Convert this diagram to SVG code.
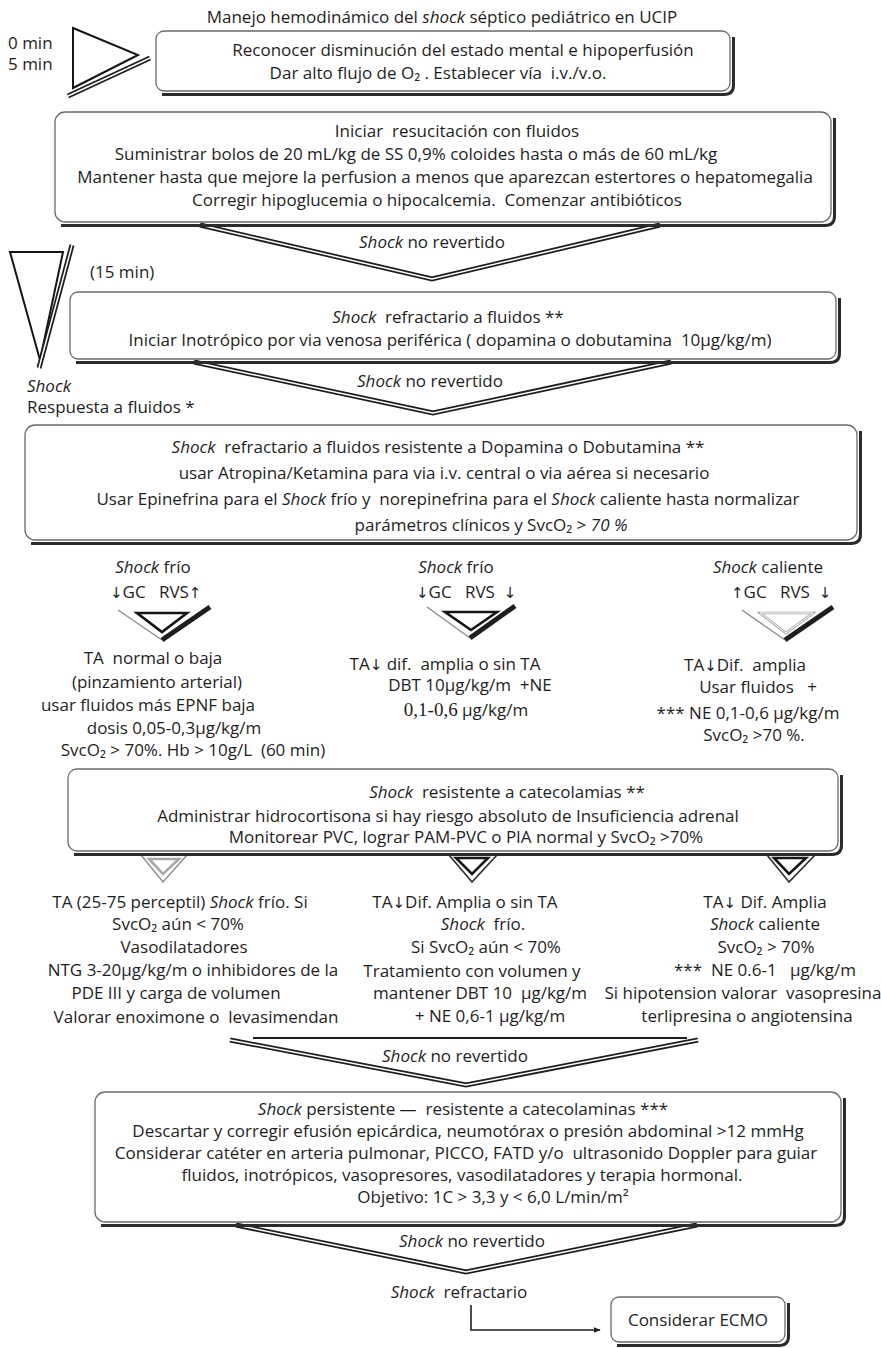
<svg xmlns="http://www.w3.org/2000/svg" width="881" height="1348" viewBox="0 0 881 1348">
<style>
  text { font-family: "Open Sans", "Liberation Sans", sans-serif; font-size: 17px; fill: #1e1e1e; white-space: pre; }
  .c { text-anchor: middle; }
  .i { font-style: italic; }
  .ar { font-family: "DejaVu Sans", sans-serif; font-size: 15px; }
  .ser { font-family: "Liberation Serif", serif; font-size: 19px; }
  .box { fill: #fff; stroke: #6a6a6a; stroke-width: 1.3; }
  .shadow { fill: none; stroke: #2b2b2b; stroke-width: 3; }
  .dbl { fill: none; stroke: #1e1e1e; stroke-width: 5; stroke-linejoin: miter; stroke-miterlimit: 20; }
  .dbl-in { fill: none; stroke: #fff; stroke-width: 1.5; stroke-linejoin: miter; stroke-miterlimit: 20; }
  .thin { fill: none; stroke: #8a8a8a; stroke-width: 1.3; }
  .tri { fill: #fff; stroke: #151515; stroke-width: 2.6; stroke-linejoin: miter; }
  .tri-w { fill: #fff; stroke: #a8a8a8; stroke-width: 2.6; }
  .tri-w-in { fill: none; stroke: #fff; stroke-width: 1; }
  .line { fill: none; stroke: #1e1e1e; stroke-width: 1.6; }
</style>
<defs>
  <marker id="arrow" viewBox="0 0 10 10" refX="9" refY="5" markerWidth="7" markerHeight="7" orient="auto" markerUnits="userSpaceOnUse">
    <path d="M0,1 L10,5 L0,9 z" fill="#1e1e1e"/>
  </marker>
</defs>

<!-- heading and time markers -->
<g id="title">
  <text class="c" x="442" y="23" font-size="15.5">Manejo hemodinámico del <tspan class="i">shock</tspan> séptico pediátrico en UCIP</text>
</g>
<g id="time-0-5">
  <text x="8" y="49" font-size="14">0 min</text>
  <text x="8" y="70" font-size="14">5 min</text>
  <polygon points="73,28 138,55 73,88" fill="#fff" stroke="#151515" stroke-width="2"/>
  <line class="dbl" x1="150" y1="58" x2="68" y2="96" stroke-width="4"/>
  <line class="dbl-in" x1="150" y1="58" x2="68" y2="96" stroke-width="1.2"/>
</g>
<g id="time-15">
  <polygon points="10,252 63,252 40,360" fill="#fff" stroke="#151515" stroke-width="2"/>
  <line class="dbl" x1="72" y1="245" x2="39" y2="368" stroke-width="4"/>
  <line class="dbl-in" x1="72" y1="245" x2="39" y2="368" stroke-width="1.2"/>
  <text x="90" y="278">(15 min)</text>
</g>
<g id="respuesta">
  <text x="27" y="392" class="i" font-size="15.5">Shock</text>
  <text x="27" y="413" font-size="15.5">Respuesta a fluidos *</text>
</g>

<!-- flow connectors: double-line chevrons between stages -->
<g id="connectors">
  <polyline class="dbl" points="200,225 432,279 660,225"/>
  <polyline class="dbl-in" points="200,225 432,279 660,225"/>
  <polyline class="dbl" points="194,362 433,413 671,362"/>
  <polyline class="dbl-in" points="194,362 433,413 671,362"/>

  <!-- branches below the dopamine-resistant stage -->
  <line class="thin" x1="118" y1="610" x2="162" y2="640"/>
  <line class="dbl" x1="162" y1="640" x2="210" y2="607" stroke-width="4"/>
  <polygon class="tri" points="137,613 187,613 162,632"/>
  <line class="thin" x1="427" y1="607" x2="470" y2="638"/>
  <line class="dbl" x1="470" y1="638" x2="515" y2="606" stroke-width="4"/>
  <polygon class="tri" points="445,612 497,612 471,630"/>
  <line class="thin" x1="742" y1="610" x2="785" y2="640"/>
  <line class="dbl" x1="785" y1="640" x2="833" y2="607" stroke-width="4"/>
  <polygon class="tri-w" points="760,613 813,613 786,633"/>
  <polygon class="tri-w-in" points="760,613 813,613 786,633"/>

  <!-- branches below the catecholamine-resistant stage -->
  <polyline class="thin" points="141,855 163,882 187,855"/>
  <polygon class="tri-w" points="149,859 179,859 163,874"/>
  <polyline fill="none" stroke="#333" stroke-width="1.8" points="449,855 472,882 497,855"/>
  <polygon class="tri" points="456,858 488,858 472,874"/>
  <polyline fill="none" stroke="#333" stroke-width="1.8" points="767,855 789,882 815,855"/>
  <polygon class="tri" points="774,858 806,858 789,874"/>

  <line x1="253" y1="1038" x2="687" y2="1038" stroke="#1e1e1e" stroke-width="2"/>
  <polyline class="dbl" points="230,1040 466,1085 698,1040"/>
  <polyline class="dbl-in" points="230,1040 466,1085 698,1040"/>
  <polyline class="dbl" points="236,1225 466,1272 697,1225"/>
  <polyline class="dbl-in" points="236,1225 466,1272 697,1225"/>

  <polyline class="line" points="471,1305 471,1330 600,1330" marker-end="url(#arrow)"/>

  <text class="c" x="432" y="248"><tspan class="i">Shock</tspan> no revertido</text>
  <text class="c" x="430" y="387"><tspan class="i">Shock</tspan> no revertido</text>
  <text class="c" x="455" y="1062"><tspan class="i">Shock</tspan> no revertido</text>
  <text class="c" x="472" y="1247"><tspan class="i">Shock</tspan> no revertido</text>
  <text class="c" x="459" y="1298"><tspan class="i">Shock</tspan>  refractario</text>
</g>

<g id="reconocer">
  <path class="shadow" d="M162,94.5 H724 Q733.5,94.5 733.5,85 V37"/>
  <rect class="box" x="156" y="31" width="574" height="60" rx="8"/>
  <text class="c" x="463" y="56">Reconocer disminución del estado mental e hipoperfusión</text>
  <text class="c" x="438" y="79">Dar alto flujo de O₂ . Establecer vía  i.v./v.o.</text>
</g>

<g id="resucitacion">
  <path class="shadow" d="M61,225.5 H825 Q834.5,225.5 834.5,216 V118"/>
  <rect class="box" x="55" y="112" width="776" height="110" rx="10"/>
  <text class="c" x="457" y="137">Iniciar  resucitación con fluidos</text>
  <text class="c" x="416" y="160">Suministrar bolos de 20 mL/kg de SS 0,9% coloides hasta o más de 60 mL/kg</text>
  <text class="c" x="445" y="183">Mantener hasta que mejore la perfusion a menos que aparezcan estertores o hepatomegalia</text>
  <text class="c" x="437" y="206">Corregir hipoglucemia o hipocalcemia.  Comenzar antibióticos</text>
</g>

<g id="refractario">
  <path class="shadow" d="M76,362.5 H830 Q839.5,362.5 839.5,353 V298"/>
  <rect class="box" x="70" y="292" width="766" height="67" rx="8"/>
  <text class="c" x="448" y="323"><tspan class="i">Shock</tspan>  refractario a fluidos **</text>
  <text class="c" x="450" y="346">Iniciar Inotrópico por via venosa periférica ( dopamina o dobutamina  10µg/kg/m)</text>
</g>

<g id="resistente-dopamina">
  <path class="shadow" d="M31,543.5 H851 Q860.5,543.5 860.5,534 V431"/>
  <rect class="box" x="25" y="425" width="832" height="115" rx="10"/>
  <text class="c" x="438" y="453"><tspan class="i">Shock</tspan>  refractario a fluidos resistente a Dopamina o Dobutamina **</text>
  <text class="c" x="444" y="479">usar Atropina/Ketamina para via i.v. central o via aérea si necesario</text>
  <text class="c" x="448" y="505">Usar Epinefrina para el <tspan class="i">Shock</tspan> frío y  norepinefrina para el <tspan class="i">Shock</tspan> caliente hasta normalizar</text>
  <text class="c" x="491" y="531">parámetros clínicos y SvcO₂ &gt; <tspan class="i">70 %</tspan></text>
</g>

<g id="frio-izq">
  <text class="c" x="153" y="573"><tspan class="i">Shock</tspan> frío</text>
  <text x="110" y="598"><tspan class="ar">↓</tspan>GC   RVS<tspan class="ar">↑</tspan></text>
  <text class="c" x="153" y="664">TA  normal o baja</text>
  <text class="c" x="157" y="688">(pinzamiento arterial)</text>
  <text class="c" x="148" y="711">usar fluidos más EPNF baja</text>
  <text class="c" x="174" y="734">dosis 0,05-0,3µg/kg/m</text>
  <text class="c" x="193" y="756">SvcO₂ &gt; 70%. Hb &gt; 10g/L  (60 min)</text>
</g>

<g id="frio-centro">
  <text class="c" x="456" y="573"><tspan class="i">Shock</tspan> frío</text>
  <text x="416" y="598"><tspan class="ar">↓</tspan>GC   RVS  <tspan class="ar">↓</tspan></text>
  <text class="c" x="445" y="670">TA<tspan class="ar">↓</tspan> dif.  amplia o sin TA</text>
  <text class="c" x="470" y="691">DBT 10µg/kg/m  +NE</text>
  <text class="c" x="466" y="716"><tspan class="ser">0,1-0,6</tspan> µg/kg/m</text>
</g>

<g id="caliente">
  <text class="c" x="768" y="573"><tspan class="i">Shock</tspan> caliente</text>
  <text x="731" y="598"><tspan class="ar">↑</tspan>GC   RVS  <tspan class="ar">↓</tspan></text>
  <text class="c" x="745" y="671">TA<tspan class="ar">↓</tspan>Dif.  amplia</text>
  <text class="c" x="758" y="693">Usar fluidos   +</text>
  <text class="c" x="748" y="719">*** NE 0,1-0,6 µg/kg/m</text>
  <text class="c" x="754" y="741">SvcO₂ &gt;70 %.</text>
</g>

<g id="resistente-catecolaminas">
  <path class="shadow" d="M74,854.5 H832 Q841.5,854.5 841.5,845 V775"/>
  <rect class="box" x="68" y="769" width="770" height="82" rx="9"/>
  <text class="c" x="507" y="798"><tspan class="i">Shock</tspan>  resistente a catecolamias **</text>
  <text class="c" x="448" y="822">Administrar hidrocortisona si hay riesgo absoluto de Insuficiencia adrenal</text>
  <text class="c" x="466" y="843">Monitorear PVC, lograr PAM-PVC o PIA normal y SvcO₂ &gt;70%</text>
</g>

<g id="frio-vasodilatadores">
  <text class="c" x="180" y="908">TA (25-75 perceptil) <tspan class="i">Shock</tspan> frío. Si</text>
  <text class="c" x="178" y="930">SvcO₂ aún &lt; 70%</text>
  <text class="c" x="184" y="953">Vasodilatadores</text>
  <text class="c" x="193" y="976">NTG 3-20µg/kg/m o inhibidores de la</text>
  <text class="c" x="176" y="999">PDE III y carga de volumen</text>
  <text class="c" x="196" y="1023">Valorar enoximone o  levasimendan</text>
</g>

<g id="frio-volumen">
  <text class="c" x="465" y="908">TA<tspan class="ar">↓</tspan>Dif. Amplia o sin TA</text>
  <text class="c" x="483" y="930"><tspan class="i">Shock</tspan>  frío.</text>
  <text class="c" x="486" y="953">Si SvcO₂ aún &lt; 70%</text>
  <text class="c" x="472" y="977">Tratamiento con volumen y</text>
  <text class="c" x="480" y="999">mantener DBT 10  µg/kg/m</text>
  <text class="c" x="490" y="1022">+ NE 0,6-1 µg/kg/m</text>
</g>

<g id="caliente-vasopresina">
  <text class="c" x="765" y="908">TA<tspan class="ar">↓</tspan> Dif. Amplia</text>
  <text class="c" x="765" y="930"><tspan class="i">Shock</tspan> caliente</text>
  <text class="c" x="766" y="953">SvcO₂ &gt; 70%</text>
  <text class="c" x="765" y="976">***  NE 0.6-1   µg/kg/m</text>
  <text class="c" x="743" y="999">Si hipotension valorar  vasopresina</text>
  <text class="c" x="747" y="1022">terlipresina o angiotensina</text>
</g>

<g id="persistente">
  <path class="shadow" d="M101,1225.5 H835 Q844.5,1225.5 844.5,1216 V1098"/>
  <rect class="box" x="95" y="1092" width="746" height="130" rx="10"/>
  <text class="c" x="463" y="1115"><tspan class="i">Shock</tspan> persistente —  resistente a catecolaminas ***</text>
  <text class="c" x="468" y="1137">Descartar y corregir efusión epicárdica, neumotórax o presión abdominal &gt;12 mmHg</text>
  <text class="c" x="466" y="1159">Considerar catéter en arteria pulmonar, PICCO, FATD y/o  ultrasonido Doppler para guiar</text>
  <text class="c" x="462" y="1181">fluidos, inotrópicos, vasopresores, vasodilatadores y terapia hormonal.</text>
  <text class="c" x="493" y="1203">Objetivo: 1C &gt; 3,3 y &lt; 6,0 L/min/m²</text>
</g>

<g id="ecmo">
  <path class="shadow" d="M617,1345.5 H779 Q788.5,1345.5 788.5,1336 V1303"/>
  <rect class="box" x="611" y="1297" width="174" height="45" rx="8"/>
  <text class="c" x="698" y="1326">Considerar ECMO</text>
</g>
</svg>
